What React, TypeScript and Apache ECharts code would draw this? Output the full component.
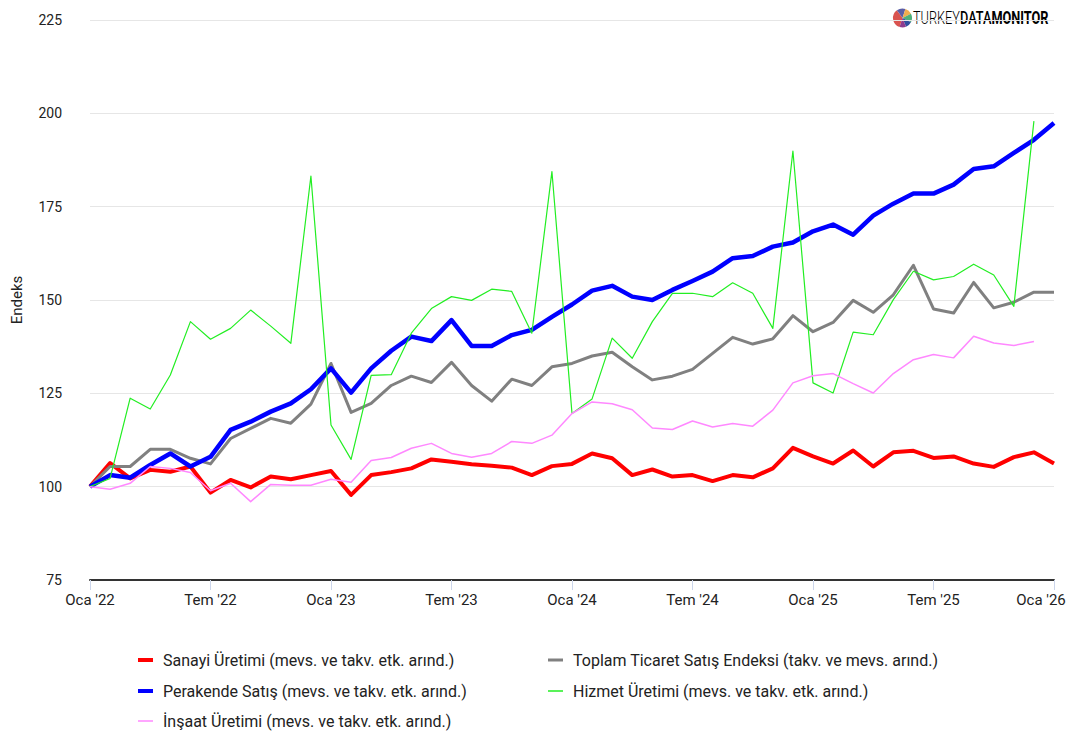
import React, { useEffect, useRef } from "react";
import * as echarts from "echarts";

const monthNames = ["Oca", "Şub", "Mar", "Nis", "May", "Haz", "Tem", "Ağu", "Eyl", "Eki", "Kas", "Ara"];
const years = ["22", "23", "24", "25", "26"];
const categories: string[] = [];
years.forEach((y) => monthNames.forEach((m) => categories.push(`${m} '${y}`)));
categories.length = 49; // Oca '22 .. Oca '26

const yTicks = { min: 75, max: 225, interval: 25 };

const sanayi = [
  100, 106.3, 102.2, 104.5, 104.0, 105.4, 98.4, 101.8, 99.8, 102.7, 102.0, 103.1,
  104.2, 97.8, 103.1, 103.9, 104.9, 107.3, 106.7, 106.0, 105.6, 105.1, 103.1, 105.5,
  106.1, 108.9, 107.6, 103.1, 104.6, 102.7, 103.1, 101.5, 103.1, 102.5, 104.9, 110.4,
  108.1, 106.2, 109.7, 105.4, 109.2, 109.6, 107.7, 108.1, 106.2, 105.3, 107.9, 109.2,
  106.2,
];
const toplamTicaret = [
  100, 105.4, 105.4, 110.0, 110.0, 107.6, 106.1, 112.9, 115.6, 118.3, 117.0, 122.1,
  133.0, 119.9, 122.3, 127.1, 129.6, 127.9, 133.3, 127.1, 122.9, 128.8, 127.1, 132.1,
  133.0, 135.0, 136.0, 132.1, 128.6, 129.6, 131.4, 135.7, 140.0, 138.2, 139.6, 145.8,
  141.5, 144.0, 149.9, 146.7, 151.4, 159.3, 147.6, 146.5, 154.7, 147.9, 149.4, 152.1,
  152.1,
];
const perakende = [
  100, 103.1, 102.4, 105.8, 108.9, 105.4, 108.0, 115.2, 117.4, 120.1, 122.3, 126.1,
  131.7, 125.2, 131.7, 136.4, 140.2, 139.0, 144.6, 137.7, 137.7, 140.6, 142.0, 145.5,
  148.8, 152.5, 153.8, 150.9, 150.0, 152.7, 155.1, 157.6, 161.2, 161.8, 164.3, 165.4,
  168.4, 170.2, 167.5, 172.6, 175.8, 178.5, 178.5, 180.9, 185.1, 185.8, 189.4, 192.9,
  197.4,
];
const hizmet = [
  100, 102.2, 123.7, 120.8, 129.9, 144.2, 139.5, 142.4, 147.3, 143.0, 138.4, 183.2,
  116.5, 107.3, 129.8, 130.0, 141.1, 147.7, 150.9, 149.9, 152.9, 152.3, 141.1, 184.4,
  119.6, 123.5, 139.8, 134.4, 144.2, 151.8, 151.8, 150.9, 154.6, 151.8, 142.4, 189.9,
  127.8, 125.1, 141.4, 140.7, 150.1, 157.7, 155.4, 156.3, 159.6, 156.7, 148.3, 197.9,
  null,
];
const insaat = [
  100, 99.3, 100.9, 105.4, 104.9, 103.8, 98.9, 100.9, 96.0, 100.6, 100.4, 100.4,
  102.0, 101.2, 107.0, 107.8, 110.3, 111.6, 108.9, 107.9, 108.9, 112.1, 111.6, 113.8,
  119.6, 122.7, 122.2, 120.6, 115.7, 115.3, 117.6, 116.0, 116.9, 116.2, 120.5, 127.8,
  129.7, 130.3, 127.6, 125.1, 130.3, 134.0, 135.4, 134.5, 140.3, 138.5, 137.8, 138.9,
  null,
];

const names = {
  sanayi: "Sanayi Üretimi (mevs. ve takv. etk. arınd.)",
  toplam: "Toplam Ticaret Satış Endeksi (takv. ve mevs. arınd.)",
  perakende: "Perakende Satış (mevs. ve takv. etk. arınd.)",
  hizmet: "Hizmet Üretimi (mevs. ve takv. etk. arınd.)",
  insaat: "İnşaat Üretimi (mevs. ve takv. etk. arınd.)",
};

const FONT = "Roboto, 'Noto Sans', sans-serif";

export default function App() {
  const ref = useRef<HTMLDivElement>(null);
  useEffect(() => {
    document.body.style.margin = "0";
    if (!ref.current) return;
    const chart = echarts.init(ref.current, undefined, { renderer: "svg" });
    const line = (name: string, data: (number | null)[], color: string, width: number) => ({
      name,
      type: "line",
      data,
      showSymbol: false,
      symbol: "none",
      color,
      lineStyle: { color, width, join: "round" },
      emphasis: { disabled: true },
    });
    const leg = (name: string, left: number, top: number, h: number) => ({
      orient: "horizontal",
      left,
      top,
      padding: 0,
      itemWidth: 15,
      itemHeight: h,
      icon: "rect",
      data: [name],
      textStyle: { fontSize: 16, color: "#222", fontFamily: FONT, lineHeight: 20, padding: [0, 0, 0, 5] },
    });
    const lastIdx = categories.length - 1;
    chart.setOption({
      animation: false,
      backgroundColor: "#fff",
      grid: { left: 90, right: 12, top: 20, bottom: 154, containLabel: false, outerBoundsMode: "none" },
      xAxis: {
        type: "category",
        data: categories,
        boundaryGap: false,
        axisLine: { lineStyle: { color: "#333", width: 2 } },
        axisTick: { interval: 5, length: 10, lineStyle: { color: "#ccd6eb" } },
        axisLabel: {
          interval: 5,
          fontSize: 15,
          color: "#222",
          margin: 12,
          fontFamily: FONT,
          formatter: (v: string, i: number) => (i === lastIdx ? `{last|${v}}` : v),
          rich: { last: { fontSize: 15, color: "#222", fontFamily: FONT, padding: [0, 26, 0, 0] } },
        },
        splitLine: { show: false },
      },
      yAxis: {
        type: "value",
        min: yTicks.min,
        max: yTicks.max,
        interval: yTicks.interval,
        name: "Endeks",
        nameLocation: "middle",
        nameRotate: 90,
        nameGap: 66,
        nameTextStyle: { fontSize: 15, color: "#222", fontFamily: FONT },
        axisLine: { show: false },
        axisTick: { show: false },
        axisLabel: { fontSize: 14, color: "#222", margin: 28, fontFamily: FONT },
        splitLine: { lineStyle: { color: "#e6e6e6", width: 1 } },
      },
      legend: [
        leg(names.sanayi, 138, 650, 4),
        leg(names.perakende, 138, 681, 4),
        leg(names.insaat, 138, 711, 1.5),
        leg(names.toplam, 548, 650, 3),
        leg(names.hizmet, 548, 681, 1.5),
      ],
      series: [
        line(names.sanayi, sanayi, "#ff0000", 4),
        line(names.toplam, toplamTicaret, "#808080", 3),
        line(names.perakende, perakende, "#0000ff", 4.5),
        line(names.hizmet, hizmet, "#22ee22", 1.2),
        line(names.insaat, insaat, "#ff88ff", 1.5),
      ],
      graphic: [
        {
          type: "group",
          children: [
            { type: "sector", shape: { cx: 902.5, cy: 18, r: 9.5, startAngle: Math.PI * 0.6, endAngle: Math.PI * 1.3 }, style: { fill: "#d9534f" } },
            { type: "sector", shape: { cx: 902.5, cy: 18, r: 9.5, startAngle: Math.PI * 1.3, endAngle: Math.PI * 1.6 }, style: { fill: "#5b5ea6" } },
            { type: "sector", shape: { cx: 902.5, cy: 18, r: 9.5, startAngle: Math.PI * 1.6, endAngle: Math.PI * 1.85 }, style: { fill: "#f0ad4e" } },
            { type: "sector", shape: { cx: 902.5, cy: 18, r: 9.5, startAngle: Math.PI * 1.85, endAngle: Math.PI * 2.15 }, style: { fill: "#4fb07a" } },
            { type: "sector", shape: { cx: 902.5, cy: 18, r: 9.5, startAngle: Math.PI * 0.15, endAngle: Math.PI * 0.38 }, style: { fill: "#2f4f9f" } },
            { type: "sector", shape: { cx: 902.5, cy: 18, r: 9.5, startAngle: Math.PI * 0.38, endAngle: Math.PI * 0.6 }, style: { fill: "#8e3b8e" } },
            {
              type: "text",
              x: 913,
              y: 18,
              scaleX: 0.67,
              style: {
                text: "{a|TURKEY}{b|DATA}{c|MONITOR}",
                verticalAlign: "middle",
                rich: {
                  a: { fontSize: 19, color: "#666", fontFamily: "Roboto", fontWeight: 300 },
                  b: { fontSize: 19, color: "#555", fontFamily: "Roboto", fontWeight: 500 },
                  c: { fontSize: 19, color: "#222", fontFamily: "Roboto", fontWeight: 700 },
                },
              },
            },
          ],
        },
      ],
    });
    return () => chart.dispose();
  }, []);
  return <div ref={ref} style={{ width: 1066, height: 734 }} />;
}
